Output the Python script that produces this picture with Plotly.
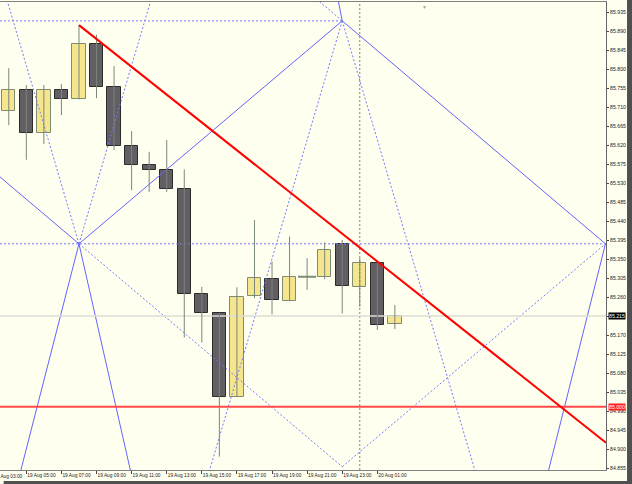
import plotly.graph_objects as go

# ---------------- data ----------------
hours = list(range(4, 27))  # hours since 19 Aug 00:00 (19 Aug 04:00 .. 20 Aug 02:00)
opens = [85.701, 85.750, 85.648, 85.751, 85.730, 85.859, 85.757, 85.618, 85.573, 85.562, 85.515, 85.267,
         85.221, 85.023, 85.262, 85.303, 85.250, 85.308, 85.308, 85.385, 85.283, 85.341, 85.195]
highs = [85.802, 85.762, 85.762, 85.764, 85.904, 85.881, 85.807, 85.653, 85.604, 85.632, 85.562, 85.284,
         85.222, 85.283, 85.442, 85.344, 85.403, 85.352, 85.389, 85.395, 85.352, 85.343, 85.241]
lows = [85.667, 85.585, 85.622, 85.691, 85.728, 85.731, 85.608, 85.513, 85.509, 85.509, 85.164, 85.152,
        84.882, 85.023, 85.257, 85.219, 85.250, 85.277, 85.302, 85.221, 85.237, 85.182, 85.184]
closes = [85.750, 85.648, 85.750, 85.730, 85.859, 85.758, 85.618, 85.573, 85.562, 85.515, 85.267, 85.221,
          85.024, 85.259, 85.304, 85.253, 85.307, 85.308, 85.371, 85.286, 85.341, 85.194, 85.215]

x_tick_hours = [5, 7, 9, 11, 13, 15, 17, 19, 21, 23, 25]
x_tick_labels = ["19 Aug 05:00", "19 Aug 07:00", "19 Aug 09:00", "19 Aug 11:00", "19 Aug 13:00",
                 "19 Aug 15:00", "19 Aug 17:00", "19 Aug 19:00", "19 Aug 21:00", "19 Aug 23:00",
                 "20 Aug 01:00"]
first_label = "19 Aug 03:00"

y_ticks = [85.935, 85.890, 85.845, 85.800, 85.755, 85.710, 85.665, 85.620, 85.575, 85.530, 85.485,
           85.440, 85.395, 85.350, 85.305, 85.260, 85.215, 85.170, 85.125, 85.080, 85.035, 84.990,
           84.945, 84.900, 84.855]

# drawn objects
trend_h = [8, 38.03]
trend_p = [85.904, 84.915]
red_level = 85.000
bid_level = 85.215
separator_hour = 24

# Gann diamond anchors: A (left), B (top), C (right), D (bottom)
gann_h = [8, 23, 38, 23]
gann_p = [85.386, 85.914, 85.386, 84.858]

X_RANGE = [3.5, 38.03]
Y_RANGE = [84.8503, 85.9587]

BG = "#FFFFEF"
BULL_FILL = "#F5E68E"
BULL_LINE = "#7E8C74"
BEAR_FILL = "#625E64"
BEAR_LINE = "#2B2B2B"
WICK = "#7A867A"
SOLID_BLUE = "#6464FF"
DOT_BLUE = "#7878FF"

fig = go.Figure()

A = (gann_h[0], gann_p[0]); B = (gann_h[1], gann_p[1]); C = (gann_h[2], gann_p[2]); D = (gann_h[3], gann_p[3])
unit = (B[1] - A[1]) / (B[0] - A[0])  # 1x1 slope (price per hour)


def ray(p, dh, slope, length=40):
    """points from anchor p going in time direction dh (+1/-1) with price slope 'slope' per hour"""
    return [p[0], p[0] + dh * length], [p[1], p[1] + slope * dh * length]


def add_line(xs, ys, dotted, color=None, width=1):
    fig.add_trace(go.Scatter(x=xs, y=ys, mode="lines", hoverinfo="skip", showlegend=False,
                             line=dict(color=color or (DOT_BLUE if dotted else SOLID_BLUE), width=width,
                                       dash="2px,2px" if dotted else "solid")))


# solid diamond edges
add_line([A[0], B[0]], [A[1], B[1]], False)
add_line([B[0], C[0]], [B[1], C[1]], False)
# dotted diamond edges
add_line([A[0], D[0]], [A[1], D[1]], True)
add_line([D[0], C[0]], [D[1], C[1]], True)
# extension of D-A beyond A (solid, up-left)
xs, ys = ray(A, -1, -unit)
add_line(xs, ys, False)
# extension of C-B beyond B (dotted, up-left)
xs, ys = ray(B, -1, -unit)
add_line(xs, ys, True)
# horizontal levels
add_line([X_RANGE[0], C[0] + 1], [A[1], A[1]], True)
add_line([X_RANGE[0], B[0]], [B[1], B[1]], True)
# steep 4x1 lines from A upward (dotted)
for dh in (-1, 1):
    xs, ys = ray(A, dh, 4 * unit * dh)
    add_line(xs, ys, True)
# steep lines from A downward (solid)
for dh, k in ((-1, 4.6), (1, 5.2)):
    xs, ys = ray(A, dh, -k * unit * dh)
    add_line(xs, ys, False)
# steep 4x1 lines from B downward (dotted)
for dh in (-1, 1):
    xs, ys = ray(B, dh, -4 * unit * dh)
    add_line(xs, ys, True)
# steep solid line from B upward-left
xs, ys = ray(B, -1, -6 * unit)
add_line(xs, ys, False)
# steep solid line from C downward-left
xs, ys = ray(C, -1, 4.7 * unit)
add_line(xs, ys, False)

# period separator
add_line([separator_hour, separator_hour], Y_RANGE, True, "#808080")

# bid line and red level
add_line(X_RANGE, [bid_level, bid_level], False, "#DCDCD4", 1.5)
add_line(X_RANGE, [red_level, red_level], False, "#FF4848", 2)

# ---- candles ----
wx, wy = [], []
for h, hi, lo in zip(hours, highs, lows):
    wx += [h, h, None]
    wy += [lo, hi, None]
fig.add_trace(go.Scatter(x=wx, y=wy, mode="lines", line=dict(color=WICK, width=1),
                         hoverinfo="skip", showlegend=False))

bx, bbase, bh, bfill, bline = [], [], [], [], []
dx, dy = [], []
for h, o, c in zip(hours, opens, closes):
    if abs(c - o) < 0.0008:
        dx.append(h); dy.append(c)
        continue
    bx.append(h)
    bbase.append(min(o, c))
    bh.append(abs(c - o))
    bull = c > o
    bfill.append(BULL_FILL if bull else BEAR_FILL)
    bline.append(BULL_LINE if bull else BEAR_LINE)
fig.add_trace(go.Bar(x=bx, y=bh, base=bbase, width=0.76, hoverinfo="skip", showlegend=False,
                     marker=dict(color=bfill, line=dict(color=bline, width=1))))
fig.add_trace(go.Scatter(x=dx, y=dy, mode="markers", hoverinfo="skip", showlegend=False,
                         marker=dict(symbol="line-ew", size=13, line=dict(color=BULL_LINE, width=2))))

# red trend line
fig.add_trace(go.Scatter(x=trend_h, y=trend_p, mode="lines", hoverinfo="skip", showlegend=False,
                         line=dict(color="#FF0000", width=2)))

FONT = "Liberation Sans"
y_text = ["" if abs(v - bid_level) < 1e-9 else f"{v:.3f}" for v in y_ticks]
fig.update_layout(
    width=632, height=484,
    margin=dict(l=0, r=26, t=2, b=14),
    paper_bgcolor=BG, plot_bgcolor=BG,
    bargap=0, barmode="overlay",
    font=dict(family=FONT, size=5, color="#222"),
    xaxis=dict(range=X_RANGE, showgrid=False, zeroline=False, showline=True, linecolor="#808080",
               linewidth=1, mirror=True, ticks="outside", ticklen=3, tickcolor="#444", tickangle=0,
               tickvals=x_tick_hours, ticktext=x_tick_labels, ticklabelposition="outside right",
               tickfont=dict(size=4.8, family=FONT, color="#222"), fixedrange=True),
    yaxis=dict(range=Y_RANGE, side="right", showgrid=False, zeroline=False, showline=True,
               linecolor="#666", linewidth=1, mirror=True, ticks="outside", ticklen=2, tickcolor="#444",
               tickvals=y_ticks, ticktext=y_text,
               tickfont=dict(size=5.2, family=FONT, color="#222"), fixedrange=True),
)

# partial first time label (19 Aug 03:00 sits left of the visible area)
fig.add_annotation(x=-0.0135, y=0, xref="paper", yref="paper", xanchor="left", yanchor="top",
                   text=first_label, showarrow=False, yshift=-2,
                   font=dict(size=4.8, family=FONT, color="#222"))

# chart-shift marker
fig.add_annotation(x=0.701, y=1, xref="paper", yref="paper", xanchor="center", yanchor="top",
                   text="▼", showarrow=False, font=dict(size=5, color="#A0A0A0"))

# price labels on axis
fig.add_annotation(x=1, y=bid_level, xref="paper", yref="y", xanchor="left", yanchor="middle",
                   text=f"{bid_level:.3f}", showarrow=False, xshift=2, bgcolor="#000000",
                   font=dict(size=5.2, family=FONT, color="#FFFFFF"), borderpad=0)
fig.add_annotation(x=1, y=red_level, xref="paper", yref="y", xanchor="left", yanchor="middle",
                   text=f"{red_level:.3f}", showarrow=False, xshift=2, bgcolor="#FF2020",
                   font=dict(size=5.2, family=FONT, color="#FFFFFF"), borderpad=0)

# window shadow
fig.add_shape(type="rect", xref="paper", yref="paper", x0=1.0347, x1=1.05, y0=-0.03, y1=1.01,
              fillcolor="#505050", line=dict(width=0), layer="above")
fig.add_shape(type="rect", xref="paper", yref="paper", x0=0.006, x1=1.05, y0=-0.03, y1=-0.0235,
              fillcolor="#505050", line=dict(width=0), layer="above")

fig.write_html("out.html", config={"displayModeBar": False})
